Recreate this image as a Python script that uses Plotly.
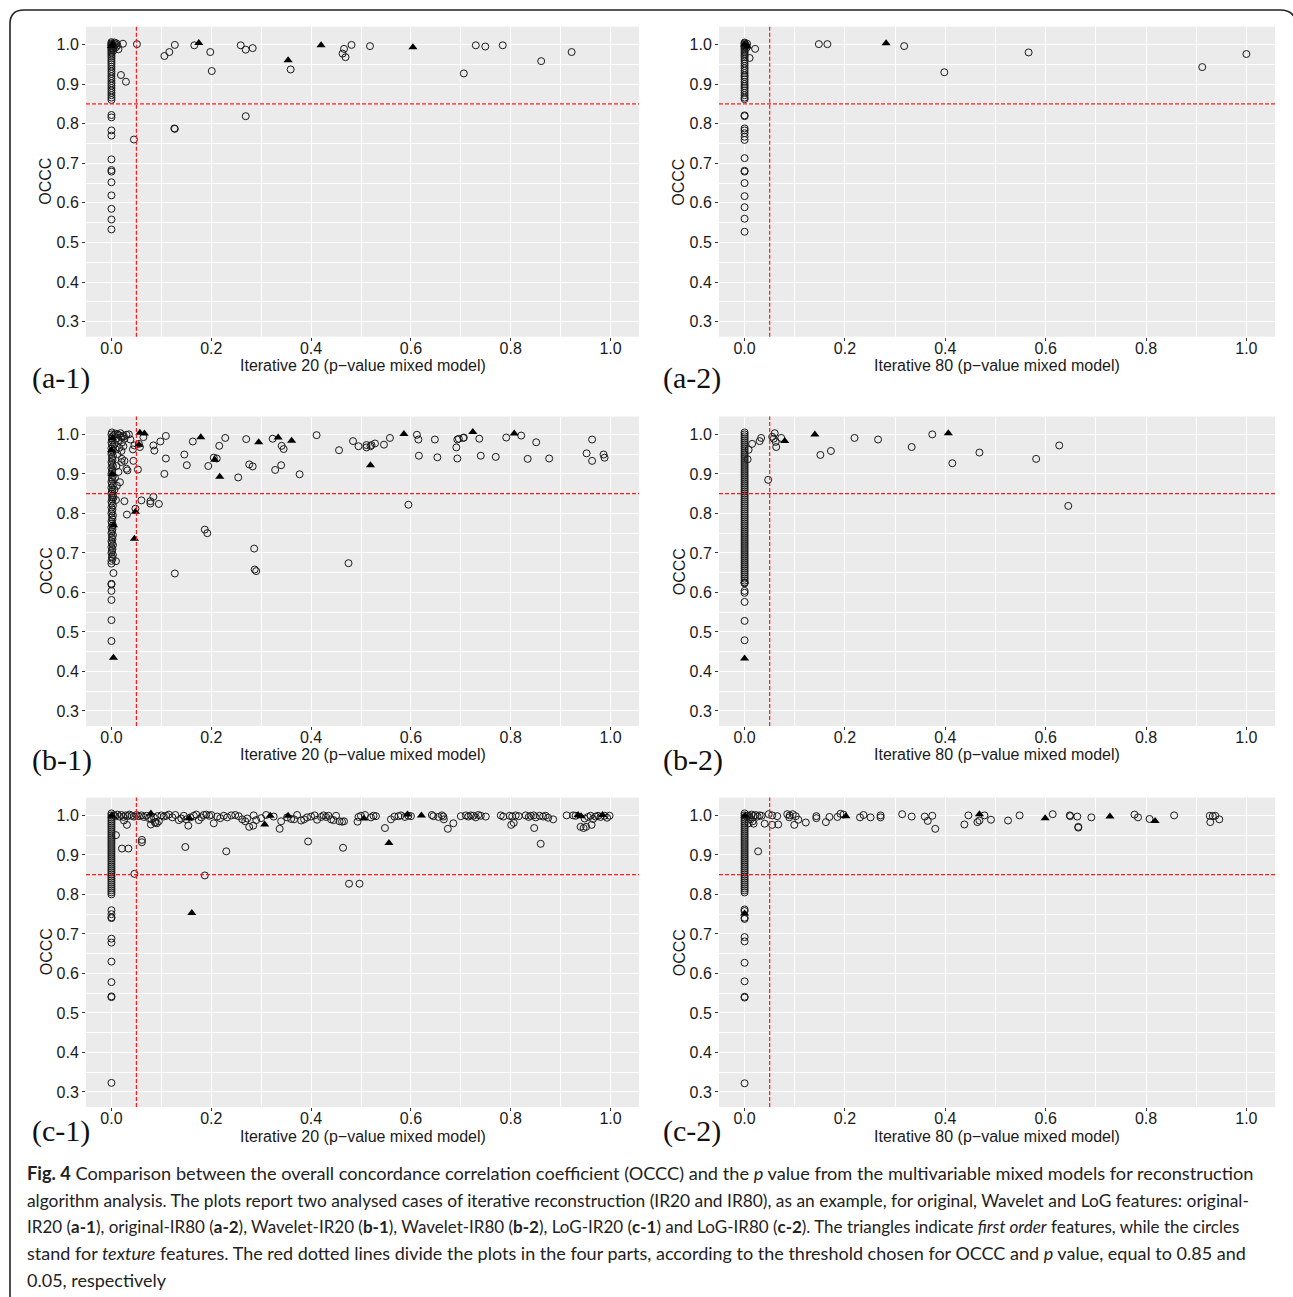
import plotly.graph_objects as go

W, H = 1293, 1297

# ---------------- DATA ----------------
# (a-1) original-IR20
a1_col_x = [0.000, 0.000, 0.000, 0.000, 0.000, 0.000, 0.000, 0.000, 0.000, 0.000,
            0.000, 0.000, 0.000, 0.000, 0.000, 0.000, 0.000, 0.000, 0.000, 0.000,
            0.000, 0.000, 0.000, 0.000, 0.000, 0.000, 0.000, 0.000, 0.000, 0.000, 0.000,
            0.003, 0.005, 0.008, 0.010, 0.012, 0.006, 0.004, 0.009, 0.014,
            0.000, 0.000, 0.000, 0.000, 0.000, 0.000, 0.000, 0.000, 0.000, 0.000, 0.000, 0.000]
a1_col_y = [0.860, 0.866, 0.872, 0.878, 0.884, 0.890, 0.896, 0.902, 0.908, 0.914,
            0.920, 0.926, 0.932, 0.938, 0.944, 0.950, 0.955, 0.960, 0.965, 0.970,
            0.974, 0.978, 0.982, 0.986, 0.989, 0.992, 0.995, 0.998, 1.000, 1.003, 1.006,
            0.990, 0.995, 1.000, 1.003, 0.998, 1.005, 0.985, 0.993, 0.988,
            0.822, 0.816, 0.783, 0.770, 0.710, 0.683, 0.679, 0.652, 0.619, 0.585, 0.558, 0.533]
a1_circ_x = [0.023, 0.019, 0.029, 0.051, 0.106, 0.116, 0.127, 0.166, 0.198, 0.201,
             0.259, 0.269, 0.283, 0.359, 0.463, 0.466, 0.469, 0.481, 0.518, 0.706,
             0.730, 0.749, 0.784, 0.861, 0.922, 0.269, 0.126, 0.127, 0.045]
a1_circ_y = [1.002, 0.923, 0.906, 1.001, 0.971, 0.981, 0.999, 0.998, 0.981, 0.933,
             0.998, 0.987, 0.991, 0.937, 0.977, 0.989, 0.968, 0.999, 0.996, 0.927,
             0.998, 0.995, 0.998, 0.958, 0.981, 0.819, 0.788, 0.787, 0.760]
a1_tri_x = [0.000, 0.002, 0.175, 0.354, 0.420, 0.604]
a1_tri_y = [0.996, 1.001, 1.004, 0.960, 0.998, 0.993]

# (a-2) original-IR80
a2_col_x = [0.000, 0.000, 0.000, 0.000, 0.000, 0.000, 0.000, 0.000, 0.000, 0.000,
            0.000, 0.000, 0.000, 0.000, 0.000, 0.000, 0.000, 0.000, 0.000, 0.000,
            0.000, 0.000, 0.000, 0.000, 0.000, 0.000, 0.000, 0.000, 0.000, 0.000, 0.000,
            0.003, 0.005, 0.004,
            0.000, 0.000, 0.000, 0.000, 0.000, 0.000, 0.000, 0.000, 0.000, 0.000,
            0.000, 0.000, 0.000, 0.000, 0.000]
a2_col_y = [0.862, 0.866, 0.872, 0.878, 0.884, 0.890, 0.895, 0.900, 0.906, 0.912,
            0.918, 0.922, 0.928, 0.934, 0.940, 0.946, 0.952, 0.958, 0.963, 0.968,
            0.972, 0.976, 0.980, 0.984, 0.988, 0.991, 0.994, 0.997, 1.000, 1.003, 1.005,
            0.998, 1.002, 0.992,
            0.821, 0.819, 0.788, 0.783, 0.776, 0.767, 0.759, 0.713, 0.681, 0.679,
            0.650, 0.617, 0.589, 0.560, 0.527]
a2_circ_x = [0.010, 0.021, 0.148, 0.165, 0.318, 0.398, 0.566, 0.912, 1.000]
a2_circ_y = [0.966, 0.989, 1.001, 1.001, 0.996, 0.930, 0.980, 0.943, 0.976]
a2_tri_x = [0.000, 0.006, 0.282]
a2_tri_y = [1.000, 0.995, 1.003]

# (b-1) Wavelet-IR20
b1_col_x = [0.000, 0.002, 0.001, 0.003, 0.000, 0.001, 0.002, 0.000, 0.003, 0.001,
            0.000, 0.002, 0.001, 0.003, 0.000, 0.001, 0.002, 0.000, 0.003, 0.001,
            0.000, 0.002, 0.001, 0.003, 0.000, 0.001, 0.002, 0.000, 0.003, 0.001,
            0.000, 0.002, 0.001, 0.003, 0.000, 0.001, 0.002, 0.000, 0.003, 0.001,
            0.000, 0.002, 0.001, 0.003, 0.000, 0.001, 0.002, 0.000, 0.003, 0.001,
            0.000, 0.002, 0.001, 0.003, 0.000, 0.001, 0.002, 0.000, 0.003, 0.001,
            0.000, 0.002, 0.001, 0.003, 0.000, 0.001,
            0.000, 0.000, 0.000, 0.000, 0.000, 0.000, 0.004, 0.009, 0.000]
b1_col_y = [0.680, 0.685, 0.690, 0.695, 0.700, 0.705, 0.710, 0.715, 0.720, 0.725,
            0.730, 0.735, 0.740, 0.745, 0.750, 0.755, 0.760, 0.765, 0.770, 0.775,
            0.780, 0.785, 0.790, 0.795, 0.800, 0.805, 0.810, 0.815, 0.820, 0.825,
            0.830, 0.835, 0.840, 0.845, 0.850, 0.855, 0.860, 0.865, 0.870, 0.875,
            0.880, 0.885, 0.890, 0.895, 0.900, 0.905, 0.910, 0.915, 0.920, 0.925,
            0.930, 0.935, 0.940, 0.945, 0.950, 0.955, 0.960, 0.965, 0.970, 0.975,
            0.980, 0.985, 0.990, 0.995, 1.000, 1.005,
            0.477, 0.530, 0.581, 0.604, 0.620, 0.622, 0.649, 0.679, 0.673]
b1_circ_x = [0.005, 0.008, 0.012, 0.015, 0.018, 0.010, 0.014, 0.020, 0.025, 0.030,
             0.035, 0.006, 0.009, 0.012, 0.016, 0.020, 0.024, 0.010, 0.014, 0.007,
             0.011, 0.006, 0.004,
             0.009, 0.026, 0.031, 0.017, 0.030, 0.032, 0.026, 0.021, 0.020, 0.038,
             0.021, 0.023, 0.026, 0.044, 0.043, 0.046, 0.053, 0.048, 0.055, 0.057,
             0.064, 0.060, 0.078, 0.078, 0.084, 0.095, 0.084, 0.086, 0.098, 0.109,
             0.109, 0.106, 0.127, 0.146, 0.151, 0.163, 0.187, 0.192, 0.194, 0.205,
             0.211, 0.216, 0.228, 0.254, 0.270, 0.276, 0.283, 0.286, 0.287, 0.290,
             0.323, 0.341, 0.345, 0.340, 0.328, 0.377, 0.411, 0.456, 0.475, 0.484,
             0.495, 0.511, 0.511, 0.519, 0.521, 0.528, 0.546, 0.558, 0.595, 0.612,
             0.615, 0.616, 0.648, 0.653, 0.691, 0.693, 0.696, 0.693, 0.705, 0.706,
             0.737, 0.740, 0.770, 0.791, 0.821, 0.834, 0.851, 0.877, 0.952, 0.963,
             0.963, 0.986, 0.988]
b1_circ_y = [0.999, 1.002, 1.000, 0.998, 1.003, 0.990, 0.985, 0.992, 0.995, 0.999,
             1.000, 0.975, 0.962, 0.950, 0.966, 0.958, 0.970, 0.920, 0.905, 0.890,
             0.870, 0.860, 0.840,
             0.834, 0.831, 0.797, 0.879, 0.913, 0.909, 0.933, 0.938, 0.930, 0.987,
             0.979, 0.997, 0.989, 0.933, 0.962, 0.972, 0.911, 0.812, 0.976, 0.968,
             0.993, 0.833, 0.831, 0.825, 0.842, 0.824, 0.972, 0.959, 0.982, 0.996,
             0.939, 0.900, 0.648, 0.949, 0.922, 0.982, 0.759, 0.750, 0.920, 0.941,
             0.939, 0.971, 0.991, 0.891, 0.988, 0.924, 0.919, 0.711, 0.658, 0.654,
             0.989, 0.971, 0.963, 0.922, 0.910, 0.899, 0.998, 0.960, 0.674, 0.983,
             0.970, 0.973, 0.967, 0.970, 0.973, 0.977, 0.974, 0.991, 0.822, 0.999,
             0.987, 0.946, 0.987, 0.942, 0.967, 0.987, 0.989, 0.939, 0.991, 0.992,
             0.989, 0.946, 0.943, 0.992, 0.997, 0.938, 0.980, 0.939, 0.952, 0.987,
             0.933, 0.949, 0.941]
b1_tri_x = [0.004, 0.004, 0.002, 0.000, 0.001, 0.046, 0.048, 0.057, 0.066, 0.055,
            0.179, 0.207, 0.217, 0.295, 0.334, 0.361, 0.519, 0.586, 0.724, 0.807]
b1_tri_y = [0.435, 0.770, 0.990, 0.960, 0.900, 0.736, 0.804, 1.004, 1.002, 0.974,
            0.993, 0.936, 0.893, 0.980, 0.992, 0.984, 0.922, 1.001, 1.006, 1.002]

# (b-2) Wavelet-IR80
b2_col_x = [0.000, 0.000, 0.000, 0.000, 0.000, 0.000, 0.000, 0.000, 0.000, 0.000,
            0.000, 0.000, 0.000, 0.000, 0.000, 0.000, 0.000, 0.000, 0.000, 0.000,
            0.000, 0.000, 0.000, 0.000, 0.000, 0.000, 0.000, 0.000, 0.000, 0.000,
            0.000, 0.000, 0.000, 0.000, 0.000, 0.000, 0.000, 0.000, 0.000, 0.000,
            0.000, 0.000, 0.000, 0.000, 0.000, 0.000, 0.000, 0.000, 0.000, 0.000,
            0.000, 0.000, 0.000, 0.000, 0.000, 0.000, 0.000, 0.000, 0.000, 0.000,
            0.000, 0.000, 0.000, 0.000, 0.000, 0.000, 0.000, 0.000, 0.000, 0.000,
            0.000, 0.000, 0.000, 0.000, 0.000, 0.000,
            0.000, 0.000, 0.000, 0.000, 0.000, 0.000, 0.000, 0.000]
b2_col_y = [0.630, 0.635, 0.640, 0.645, 0.650, 0.655, 0.660, 0.665, 0.670, 0.675,
            0.680, 0.685, 0.690, 0.695, 0.700, 0.705, 0.710, 0.715, 0.720, 0.725,
            0.730, 0.735, 0.740, 0.745, 0.750, 0.755, 0.760, 0.765, 0.770, 0.775,
            0.780, 0.785, 0.790, 0.795, 0.800, 0.805, 0.810, 0.815, 0.820, 0.825,
            0.830, 0.835, 0.840, 0.845, 0.850, 0.855, 0.860, 0.865, 0.870, 0.875,
            0.880, 0.885, 0.890, 0.895, 0.900, 0.905, 0.910, 0.915, 0.920, 0.925,
            0.930, 0.935, 0.940, 0.945, 0.950, 0.955, 0.960, 0.965, 0.970, 0.975,
            0.980, 0.985, 0.990, 0.995, 1.000, 1.005,
            0.479, 0.528, 0.576, 0.599, 0.604, 0.623, 0.625, 0.625]
b2_circ_x = [0.006, 0.008, 0.015, 0.030, 0.033, 0.047, 0.055, 0.060, 0.058, 0.062,
             0.063, 0.073, 0.151, 0.172, 0.219, 0.266, 0.333, 0.374, 0.414, 0.468,
             0.581, 0.627, 0.645]
b2_circ_y = [0.937, 0.961, 0.976, 0.983, 0.991, 0.885, 0.994, 1.003, 0.989, 0.981,
             0.968, 0.991, 0.948, 0.958, 0.991, 0.987, 0.968, 1.000, 0.927, 0.954,
             0.938, 0.972, 0.819]
b2_tri_x = [0.000, 0.080, 0.140, 0.406]
b2_tri_y = [0.433, 0.983, 1.000, 1.003]

# (c-1) LoG-IR20
c1_col_x = [0.000, 0.000, 0.000, 0.000, 0.000, 0.000, 0.000, 0.000, 0.000, 0.000,
            0.000, 0.000, 0.000, 0.000, 0.000, 0.000, 0.000, 0.000, 0.000, 0.000,
            0.000, 0.000, 0.000, 0.000, 0.000, 0.000, 0.000, 0.000, 0.000, 0.000,
            0.000, 0.000, 0.000, 0.000, 0.000, 0.000, 0.000, 0.000, 0.000, 0.000,
            0.000, 0.000,
            0.000, 0.000, 0.000, 0.000, 0.000, 0.000, 0.000, 0.000, 0.000, 0.000, 0.000]
c1_col_y = [0.800, 0.805, 0.810, 0.815, 0.820, 0.825, 0.830, 0.835, 0.840, 0.845,
            0.850, 0.855, 0.860, 0.865, 0.870, 0.875, 0.880, 0.885, 0.890, 0.895,
            0.900, 0.905, 0.910, 0.915, 0.920, 0.925, 0.930, 0.935, 0.940, 0.945,
            0.950, 0.955, 0.960, 0.965, 0.970, 0.975, 0.980, 0.985, 0.990, 0.995,
            1.000, 1.005,
            0.323, 0.540, 0.542, 0.578, 0.630, 0.678, 0.688, 0.740, 0.742, 0.760, 0.750]
c1_circ_x = [0.046, 0.187, 0.476, 0.497, 0.021, 0.034, 0.061, 0.061, 0.009, 0.148,
             0.230, 0.394, 0.464, 0.860, 0.548, 0.337, 0.674, 0.685, 0.847, 0.801,
             0.806, 0.940, 0.946, 0.951, 0.962, 0.276, 0.284, 0.154, 0.079, 0.087,
             0.091, 0.031, 0.025,
             0.005, 0.008, 0.012, 0.016, 0.020, 0.024, 0.028, 0.032, 0.036, 0.040,
             0.045, 0.050, 0.055, 0.060, 0.065, 0.070, 0.075, 0.080, 0.085, 0.088,
             0.092, 0.095, 0.100, 0.105, 0.110, 0.115, 0.122, 0.128, 0.135, 0.140,
             0.145, 0.150, 0.158, 0.165, 0.170, 0.175, 0.180, 0.185, 0.190, 0.196,
             0.200, 0.205, 0.212, 0.218, 0.225, 0.232, 0.240, 0.248, 0.255, 0.262,
             0.268, 0.272, 0.285, 0.290, 0.300, 0.310, 0.325, 0.340, 0.352, 0.360,
             0.366, 0.372, 0.380, 0.386, 0.392, 0.400, 0.407, 0.412, 0.420, 0.425,
             0.430, 0.435, 0.440, 0.445, 0.450, 0.457, 0.462, 0.466, 0.493, 0.495,
             0.500, 0.508, 0.520, 0.525, 0.530, 0.560, 0.567, 0.575, 0.580, 0.588,
             0.595, 0.600, 0.642, 0.645, 0.655, 0.662, 0.665, 0.666, 0.700, 0.710,
             0.715, 0.720, 0.725, 0.730, 0.735, 0.740, 0.750, 0.780, 0.785, 0.798,
             0.803, 0.810, 0.816, 0.830, 0.836, 0.840, 0.846, 0.850, 0.858, 0.865,
             0.870, 0.875, 0.885, 0.912, 0.925, 0.930, 0.948, 0.955, 0.960, 0.965,
             0.970, 0.975, 0.980, 0.988, 0.993, 0.998]
c1_circ_y = [0.852, 0.848, 0.827, 0.827, 0.916, 0.916, 0.938, 0.932, 0.950, 0.920,
             0.909, 0.934, 0.918, 0.928, 0.968, 0.966, 0.966, 0.980, 0.968, 0.976,
             0.981, 0.971, 0.968, 0.971, 0.976, 0.971, 0.974, 0.974, 0.977, 0.982,
             0.980, 0.976, 0.987,
             1.000, 0.998, 1.002, 0.997, 1.001, 0.996, 1.000, 0.998, 1.002, 0.999,
             0.997, 1.001, 0.998, 1.000, 0.996, 0.999, 0.993, 0.990, 0.995, 0.983,
             0.998, 0.985, 1.000, 0.997, 0.999, 1.002, 0.995, 1.001, 0.988, 0.992,
             0.999, 0.990, 0.995, 0.999, 1.002, 0.988, 0.995, 1.001, 1.002, 0.999,
             1.001, 0.980, 0.997, 0.993, 0.999, 0.995, 1.000, 1.001, 0.998, 0.990,
             0.985, 0.992, 1.000, 0.988, 0.993, 1.001, 0.997, 0.985, 0.995, 0.991,
             0.990, 1.001, 0.987, 0.990, 0.995, 0.997, 1.000, 0.989, 0.996, 1.000,
             0.996, 0.999, 0.990, 0.988, 0.999, 0.985, 0.984, 0.985, 0.984, 0.996,
             0.999, 1.001, 0.995, 0.999, 0.998, 0.990, 0.997, 0.998, 1.000, 0.996,
             0.999, 0.998, 1.001, 0.998, 0.996, 1.000, 0.997, 0.990, 0.998, 1.000,
             0.997, 1.000, 0.999, 0.995, 1.001, 0.999, 0.997, 1.000, 0.997, 0.999,
             0.997, 1.000, 0.998, 1.000, 0.996, 0.999, 1.000, 0.995, 0.999, 0.997,
             0.999, 0.994, 0.990, 1.000, 1.000, 0.999, 0.992, 0.996, 0.999, 0.991,
             0.997, 0.999, 0.996, 0.999, 0.994, 0.999]
c1_tri_x = [0.161, 0.556, 0.307, 0.079, 0.156, 0.318, 0.354, 0.506, 0.593, 0.621,
            0.935, 0.984, 0.941, 0.001]
c1_tri_y = [0.753, 0.930, 0.977, 1.005, 0.993, 0.999, 0.999, 0.992, 1.002, 1.000,
            1.001, 1.001, 0.998, 0.999]

# (c-2) LoG-IR80
c2_col_x = [0.000, 0.000, 0.000, 0.000, 0.000, 0.000, 0.000, 0.000, 0.000, 0.000,
            0.000, 0.000, 0.000, 0.000, 0.000, 0.000, 0.000, 0.000, 0.000, 0.000,
            0.000, 0.000, 0.000, 0.000, 0.000, 0.000, 0.000, 0.000, 0.000, 0.000,
            0.000, 0.000, 0.000, 0.000, 0.000, 0.000, 0.000, 0.000, 0.000, 0.000, 0.000,
            0.000, 0.000, 0.000, 0.000, 0.000, 0.000, 0.000, 0.000, 0.000, 0.000, 0.000]
c2_col_y = [0.805, 0.810, 0.815, 0.820, 0.825, 0.830, 0.835, 0.840, 0.845, 0.850,
            0.855, 0.860, 0.865, 0.870, 0.875, 0.880, 0.885, 0.890, 0.895, 0.900,
            0.905, 0.910, 0.915, 0.920, 0.925, 0.930, 0.935, 0.940, 0.945, 0.950,
            0.955, 0.960, 0.965, 0.970, 0.975, 0.980, 0.985, 0.990, 0.995, 1.000, 1.005,
            0.322, 0.539, 0.541, 0.580, 0.627, 0.681, 0.692, 0.738, 0.741, 0.758, 0.762]
c2_circ_x = [0.027, 0.018, 0.040, 0.055, 0.067, 0.099, 0.122, 0.162, 0.107, 0.143,
             0.143, 0.169, 0.185, 0.191, 0.197, 0.230, 0.237, 0.251, 0.271, 0.271,
             0.314, 0.333, 0.359, 0.365, 0.374, 0.380, 0.438, 0.446, 0.464, 0.468,
             0.478, 0.491, 0.525, 0.548, 0.614, 0.648, 0.649, 0.663, 0.665, 0.665,
             0.691, 0.777, 0.784, 0.807, 0.856, 0.927, 0.928, 0.933, 0.938, 0.946,
             0.004, 0.007, 0.010, 0.014, 0.018, 0.022, 0.026, 0.030, 0.034, 0.012,
             0.016, 0.008, 0.048, 0.055, 0.065, 0.085, 0.090, 0.096, 0.102, 0.089]
c2_circ_y = [0.909, 0.979, 0.979, 0.976, 0.977, 0.976, 0.982, 0.983, 0.989, 0.993,
             0.998, 0.996, 0.996, 1.004, 1.002, 0.995, 1.001, 0.995, 1.000, 0.995,
             1.003, 0.997, 0.997, 0.986, 0.999, 0.966, 0.977, 1.000, 0.983, 0.987,
             1.000, 0.989, 0.987, 1.000, 1.003, 1.000, 0.998, 0.997, 0.971, 0.969,
             0.995, 1.002, 0.995, 0.991, 1.000, 0.999, 0.983, 0.998, 0.999, 0.990,
             0.998, 1.000, 0.996, 1.002, 0.999, 1.001, 0.997, 1.000, 0.999, 0.990,
             0.985, 0.980, 1.003, 1.000, 0.998, 1.003, 1.000, 1.003, 0.998, 0.995]
c2_tri_x = [0.000, 0.202, 0.468, 0.599, 0.728, 0.818, 0.001]
c2_tri_y = [0.752, 0.998, 1.003, 0.993, 0.997, 0.986, 0.999]

OCCC_THRESHOLD = 0.85
P_THRESHOLD = 0.05

panels = [
    ("a-1", "Iterative 20 (p\u2212value mixed model)", a1_col_x, a1_col_y, a1_circ_x, a1_circ_y, a1_tri_x, a1_tri_y),
    ("a-2", "Iterative 80 (p\u2212value mixed model)", a2_col_x, a2_col_y, a2_circ_x, a2_circ_y, a2_tri_x, a2_tri_y),
    ("b-1", "Iterative 20 (p\u2212value mixed model)", b1_col_x, b1_col_y, b1_circ_x, b1_circ_y, b1_tri_x, b1_tri_y),
    ("b-2", "Iterative 80 (p\u2212value mixed model)", b2_col_x, b2_col_y, b2_circ_x, b2_circ_y, b2_tri_x, b2_tri_y),
    ("c-1", "Iterative 20 (p\u2212value mixed model)", c1_col_x, c1_col_y, c1_circ_x, c1_circ_y, c1_tri_x, c1_tri_y),
    ("c-2", "Iterative 80 (p\u2212value mixed model)", c2_col_x, c2_col_y, c2_circ_x, c2_circ_y, c2_tri_x, c2_tri_y),
]

# ---------------- LAYOUT GEOMETRY (pixels) ----------------
col_px = [(86, 639), (719, 1275)]
row_px = [(26.7, 336.7), (416.6, 726.0), (797.6, 1107.0)]
xtitle_y = [365, 754, 1136]
label_y = [378, 760, 1131]
label_x = [30, 661]

def px(x):
    return x / W

def py(y):
    return 1 - y / H

SANS = "Liberation Sans, Arial, sans-serif"
fig = go.Figure()
layout = dict(
    width=W, height=H, margin=dict(l=0, r=0, t=0, b=0),
    paper_bgcolor="white", plot_bgcolor="#EBEBEB", showlegend=False,
    font=dict(family=SANS, color="#1a1a1a"),
)
annotations = []
shapes = []

for i, (lab, xtitle, colx, coly, cx, cy, tx, ty) in enumerate(panels):
    r, c = divmod(i, 2)
    n = i + 1
    xa = "x" if n == 1 else f"x{n}"
    ya = "y" if n == 1 else f"y{n}"
    x0, x1 = col_px[c]
    y0, y1 = row_px[r]
    layout["xaxis" if n == 1 else f"xaxis{n}"] = dict(
        domain=[px(x0), px(x1)], anchor=ya, range=[-0.051, 1.057],
        tick0=0, dtick=0.2, tickformat=".1f", ticks="outside", ticklen=3,
        tickwidth=1, tickcolor="#333", showgrid=True, gridcolor="white", gridwidth=1.3,
        minor=dict(tick0=0, dtick=0.1, showgrid=True, gridcolor="white", gridwidth=0.6, ticks=""),
        zeroline=False, showline=False, tickfont=dict(size=16, color="#1a1a1a", family=SANS),
        ticklabelstandoff=-6,
    )
    layout["yaxis" if n == 1 else f"yaxis{n}"] = dict(
        domain=[py(y1), py(y0)], anchor=xa, range=[0.262, 1.045],
        tick0=0, dtick=0.1, tickformat=".1f", ticks="outside", ticklen=3,
        tickwidth=1, tickcolor="#333", showgrid=True, gridcolor="white", gridwidth=1.3,
        minor=dict(tick0=0, dtick=0.05, showgrid=True, gridcolor="white", gridwidth=0.6, ticks=""),
        zeroline=False, showline=False, tickfont=dict(size=16, color="#1a1a1a", family=SANS),
    )
    circ_marker = dict(symbol="circle-open", size=7, color="#1a1a1a", line=dict(width=1, color="#1a1a1a"))
    fig.add_trace(go.Scatter(x=colx, y=coly, mode="markers", marker=circ_marker, xaxis=xa, yaxis=ya))
    fig.add_trace(go.Scatter(x=cx, y=cy, mode="markers", marker=circ_marker, xaxis=xa, yaxis=ya))
    fig.add_trace(go.Scatter(x=tx, y=ty, mode="markers",
                             marker=dict(symbol="triangle-up", size=8, color="black", line=dict(width=0)),
                             xaxis=xa, yaxis=ya))
    # threshold lines
    shapes.append(dict(type="line", xref=xa, yref=f"{ya} domain", x0=P_THRESHOLD, x1=P_THRESHOLD, y0=0, y1=1,
                       line=dict(color="#ff1a1a", width=1.2, dash="4px,2px"), layer="above"))
    shapes.append(dict(type="line", xref=f"{xa} domain", yref=ya, x0=0, x1=1, y0=OCCC_THRESHOLD, y1=OCCC_THRESHOLD,
                       line=dict(color="#ff1a1a", width=1.2, dash="4px,2px"), layer="above"))
    # titles
    annotations.append(dict(text=xtitle, x=px((x0 + x1) / 2), y=py(xtitle_y[r]), xref="paper", yref="paper",
                            xanchor="center", yanchor="middle", showarrow=False,
                            font=dict(size=16, family=SANS, color="#1a1a1a")))
    annotations.append(dict(text="OCCC", x=px(x0 - 40), y=py((y0 + y1) / 2), xref="paper", yref="paper",
                            xanchor="center", yanchor="middle", showarrow=False, textangle=-90,
                            font=dict(size=16, family=SANS, color="#1a1a1a")))
    annotations.append(dict(text=f"({lab})", x=px(label_x[c]), y=py(label_y[r]), xref="paper", yref="paper",
                            xanchor="left", yanchor="middle", showarrow=False,
                            font=dict(size=30, family="Liberation Serif, Times New Roman, serif", color="#111")))

caption_lines = [
    "<b>Fig. 4</b> Comparison between the overall concordance correlation coefficient (OCCC) and the <i>p</i> value from the multivariable mixed models for reconstruction",
    "algorithm analysis. The plots report two analysed cases of iterative reconstruction (IR20 and IR80), as an example, for original, Wavelet and LoG features: original-",
    "IR20 (<b>a-1</b>), original-IR80 (<b>a-2</b>), Wavelet-IR20 (<b>b-1</b>), Wavelet-IR80 (<b>b-2</b>), LoG-IR20 (<b>c-1</b>) and LoG-IR80 (<b>c-2</b>). The triangles indicate <i>first order</i> features, while the circles",
    "stand for <i>texture</i> features. The red dotted lines divide the plots in the four parts, according to the threshold chosen for OCCC and <i>p</i> value, equal to 0.85 and",
    "0.05, respectively",
]
caption_y = [1173, 1200, 1226, 1253, 1280]
caption_size = [18.2, 17.35, 17.0, 18.0, 18.0]
for t, yy, fs in zip(caption_lines, caption_y, caption_size):
    annotations.append(dict(text=t, x=px(25), y=py(yy), xref="paper", yref="paper",
                            xanchor="left", yanchor="middle", showarrow=False,
                            font=dict(size=fs, family="Lato, Open Sans, sans-serif", color="#222")))

# rounded frame (right side runs just past the page edge, as in the source)
frame = (f"M {px(10)},{py(1310)} L {px(10)},{py(24)} Q {px(10)},{py(10)} {px(24)},{py(10)} "
         f"L {px(1280)},{py(10)} Q {px(1296)},{py(10)} {px(1296)},{py(26)} L {px(1296)},{py(1310)}")
shapes.append(dict(type="path", xref="paper", yref="paper", path=frame,
                   line=dict(color="#222", width=1.6)))

layout["annotations"] = annotations
layout["shapes"] = shapes
fig.update_layout(**layout)
fig.write_html("out.html", config={"displayModeBar": False},
               post_script="document.body.style.margin='0px';document.body.style.overflow='hidden';")
